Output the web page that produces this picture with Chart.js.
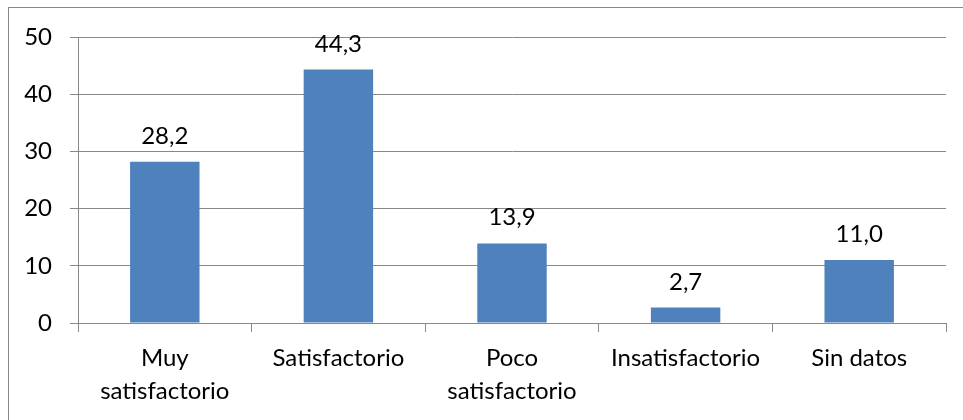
<!DOCTYPE html>
<html>
<head>
<meta charset="utf-8">
<script src="https://cdn.jsdelivr.net/npm/chart.js@4"></script>
<style>
  body { margin: 0; background: #fff; }
</style>
</head>
<body>
<canvas id="grafico" width="963" height="420"></canvas>
<script>
// Datos del gráfico
const categorias = [['Muy', 'satisfactorio'], 'Satisfactorio', ['Poco', 'satisfactorio'], 'Insatisfactorio', 'Sin datos'];
const valores = [28.2, 44.3, 13.9, 2.7, 11.0];
const ticksY = [0, 10, 20, 30, 40, 50];

const fuente = 'Lato, "Open Sans", sans-serif';
const gris = '#888888';

// Marco exterior (solo se ven los bordes superior e izquierdo)
const marco = {
    id: 'marco',
    beforeDraw(chart) {
        const ctx = chart.ctx;
        ctx.save();
        ctx.strokeStyle = gris;
        ctx.lineWidth = 1;
        ctx.strokeRect(8.5, 7.5, 1200, 800);
        ctx.restore();
    }
};

// Etiquetas de valor encima de cada barra
const etiquetas = {
    id: 'etiquetas',
    afterDatasetsDraw(chart) {
        const ctx = chart.ctx;
        const meta = chart.getDatasetMeta(0);
        ctx.save();
        ctx.font = '24px ' + fuente;
        ctx.fillStyle = '#000';
        ctx.textAlign = 'center';
        ctx.textBaseline = 'alphabetic';
        meta.data.forEach((barra, i) => {
            const texto = valores[i].toFixed(1).replace('.', ',');
            ctx.fillText(texto, barra.x, barra.y - 18);
        });
        ctx.restore();
    }
};

new Chart(document.getElementById('grafico').getContext('2d'), {
    type: 'bar',
    data: {
        labels: categorias,
        datasets: [{
            data: valores,
            backgroundColor: '#4F81BD',
            borderWidth: 0,
            categoryPercentage: 1,
            barPercentage: 0.4
        }]
    },
    options: {
        responsive: false,
        devicePixelRatio: 1,
        animation: false,
        layout: { padding: { left: 0, top: 37, right: 17, bottom: 0 } },
        plugins: {
            legend: { display: false },
            tooltip: { enabled: false }
        },
        scales: {
            x: {
                afterFit(scale) { scale.height = 97; },
                grid: { drawOnChartArea: false, drawTicks: true, tickLength: 9, color: gris },
                border: { color: gris },
                ticks: {
                    color: '#000',
                    padding: 9,
                    maxRotation: 0,
                    font: { family: fuente, size: 24, lineHeight: 1.4 }
                }
            },
            y: {
                min: 0,
                max: 50,
                afterFit(scale) { scale.width = 78; },
                afterBuildTicks(scale) { scale.ticks = ticksY.map(v => ({ value: v })); },
                grid: { color: gris, tickLength: 8 },
                border: { color: gris },
                ticks: {
                    color: '#000',
                    padding: 18,
                    font: { family: fuente, size: 24 }
                }
            }
        }
    },
    plugins: [marco, etiquetas]
});
</script>
</body>
</html>
